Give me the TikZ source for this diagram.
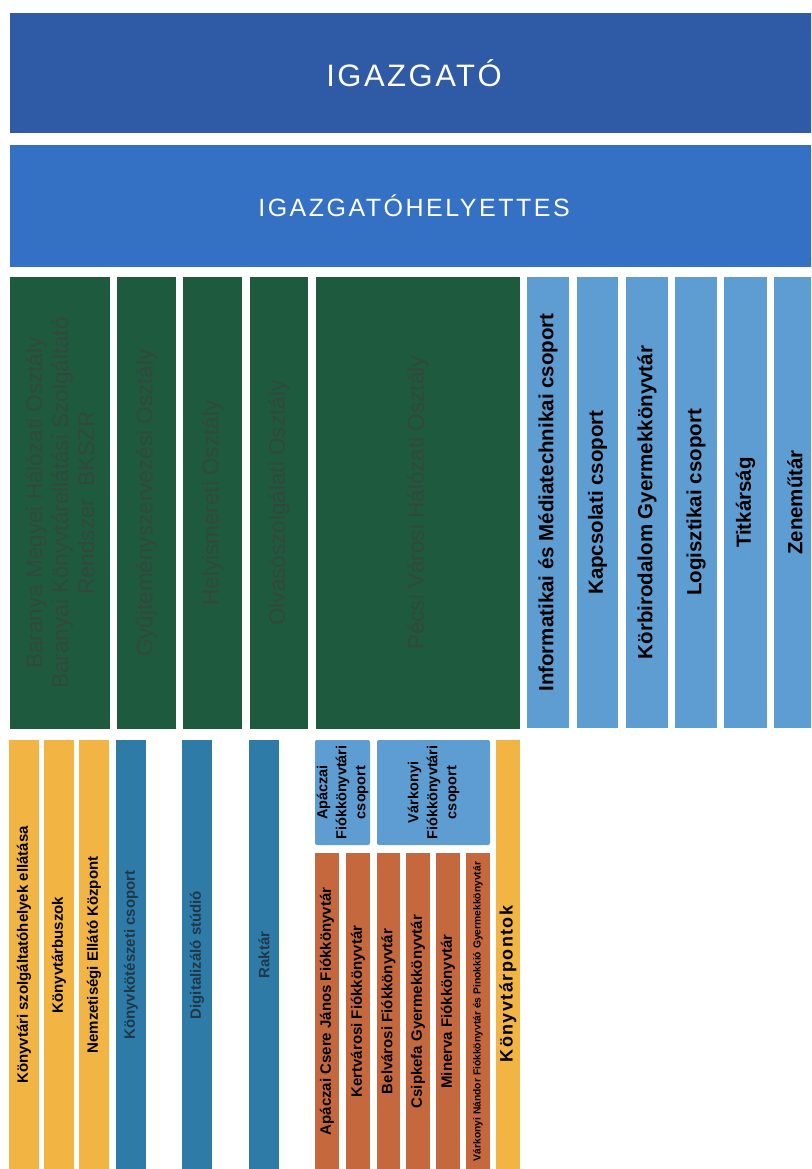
\documentclass[tikz,border=0pt]{standalone}
\usepackage{fontspec}
\setmainfont{Liberation Sans}
\definecolor{cDir}{HTML}{2E5AA6}
\definecolor{cDep}{HTML}{3470C4}
\definecolor{cGreen}{HTML}{1D5A3E}
\definecolor{cGreenTxt}{HTML}{33473C}
\definecolor{cLB}{HTML}{5E9DD1}
\definecolor{cOrange}{HTML}{F2B443}
\definecolor{cTeal}{HTML}{2F7BA7}
\definecolor{cTealTxt}{HTML}{1F3848}
\definecolor{cBrown}{HTML}{C5683D}
\newcommand{\rbox}[7]{%
  \node[#6, rotate=90, minimum width={(#5-#3)*1pt}, minimum height={(#4-#2)*1pt}]
    (#1) at ({(#2+#4)/2},{(#3+#5)/2}) {#7};}
\tikzset{
  base/.style={inner sep=0pt, outer sep=0pt, align=center, text=black},
  hdr/.style={base, text=white},
  grn/.style={base, fill=cGreen, text=cGreenTxt, font=\fontsize{22.5}{26}\selectfont},
  lbl/.style={base, fill=cLB, font=\bfseries\fontsize{20.5}{24}\selectfont},
  org/.style={base, fill=cOrange, font=\bfseries\fontsize{15}{18}\selectfont},
  tea/.style={base, fill=cTeal, text=cTealTxt, font=\bfseries\fontsize{15}{18}\selectfont},
  brn/.style={base, fill=cBrown, font=\bfseries\fontsize{15}{18}\selectfont},
  grp/.style={base, fill=cLB, rounded corners=2pt, font=\bfseries\fontsize{14.5}{19}\selectfont},
}
\begin{document}
\begin{tikzpicture}[x=1pt,y=-1pt]
\useasboundingbox (0,0) rectangle (811,1169);
\clip (0,0) rectangle (811,1169);
% header rows
\node[hdr, fill=cDir, minimum width=808pt, minimum height=120pt,
  font=\fontsize{31}{36}\selectfont\addfontfeature{LetterSpace=8}] (dir) at (414,73) {IGAZGATÓ};
\node[hdr, fill=cDep, minimum width=808pt, minimum height=122pt,
  font=\fontsize{25}{30}\selectfont\addfontfeature{LetterSpace=10}] (dep) at (414,206) {IGAZGATÓHELYETTES};
% green departments
\rbox{g1}{10}{277}{110}{729}{grn}{Baranya Megyei Hálózati Osztály\\Baranyai Könyvtárellátási Szolgáltató\\Rendszer\ \ BKSZR}
\rbox{g2}{117}{277}{176}{729}{grn}{Gyűjteményszervezési Osztály}
\rbox{g3}{183}{277}{242}{729}{grn}{Helyismereti Osztály}
\rbox{g4}{250}{277}{308}{729}{grn}{Olvasószolgálati Osztály}
\rbox{g5}{316}{277}{520}{729}{grn}{Pécsi Városi Hálózati Osztály}
% light blue groups
\rbox{l1}{527}{277}{569}{728}{lbl}{Informatikai és Médiatechnikai csoport}
\rbox{l2}{577}{277}{618}{728}{lbl}{Kapcsolati csoport}
\rbox{l3}{626}{277}{668}{728}{lbl}{Körbirodalom Gyermekkönyvtár}
\rbox{l4}{675}{277}{717}{728}{lbl}{Logisztikai csoport}
\rbox{l5}{724}{277}{767}{728}{lbl}{Titkárság}
\rbox{l6}{774}{277}{816}{728}{lbl}{Zeneműtár}
% bottom row
\rbox{o1}{9}{740}{39}{1170}{org}{Könyvtári szolgáltatóhelyek ellátása}
\rbox{o2}{44}{740}{74}{1170}{org}{Könyvtárbuszok}
\rbox{o3}{79}{740}{109}{1170}{org}{Nemzetiségi Ellátó Központ}
\rbox{t1}{116}{740}{146}{1170}{tea}{Könyvkötészeti csoport}
\rbox{t2}{182}{740}{212}{1170}{tea}{Digitalizáló stúdió}
\rbox{t3}{249}{740}{279}{1170}{tea}{Raktár}
\rbox{ga}{315}{740}{370}{845}{grp}{Apáczai\\Fiókkönyvtári\\csoport}
\rbox{gv}{377}{740}{490}{845}{grp}{Várkonyi\\Fiókkönyvtári\\csoport}
\rbox{b1}{315}{853}{339}{1170}{brn}{Apáczai Csere János Fiókkönyvtár}
\rbox{b2}{346}{853}{370}{1170}{brn}{Kertvárosi Fiókkönyvtár}
\rbox{b3}{377}{853}{400}{1170}{brn}{Belvárosi Fiókkönyvtár}
\rbox{b4}{406}{853}{430}{1170}{brn}{Csipkefa Gyermekkönyvtár}
\rbox{b5}{436}{853}{460}{1170}{brn}{Minerva Fiókkönyvtár}
\rbox{b6}{466}{853}{490}{1170}{brn,font=\bfseries\fontsize{10.3}{12}\selectfont}{Várkonyi Nándor Fiókkönyvtár és Pinokkió Gyermekkönyvtár}
\rbox{o4}{496}{740}{520}{1228}{org,font=\bfseries\fontsize{18}{20}\selectfont\addfontfeature{LetterSpace=8}}{Könyvtárpontok}
\end{tikzpicture}
\end{document}
